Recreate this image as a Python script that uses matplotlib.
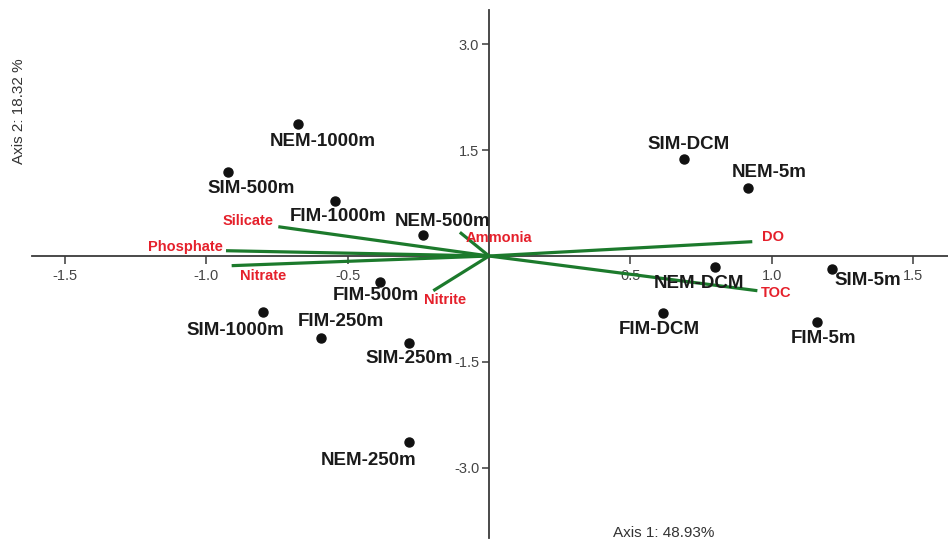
import matplotlib
matplotlib.use("Agg")
import matplotlib.pyplot as plt

# ---- data ----
samples = ["NEM-1000m", "SIM-500m", "FIM-1000m", "NEM-500m", "SIM-DCM", "NEM-5m",
           "NEM-DCM", "SIM-5m", "FIM-DCM", "FIM-5m", "FIM-500m", "SIM-1000m",
           "FIM-250m", "SIM-250m", "NEM-250m"]
axis1 = [-0.674, -0.924, -0.545, -0.232, 0.690, 0.915,
         0.799, 1.212, 0.614, 1.161, -0.385, -0.800,
         -0.595, -0.284, -0.283]
axis2 = [1.867, 1.191, 0.784, 0.293, 1.379, 0.960,
         -0.152, -0.189, -0.804, -0.940, -0.364, -0.798,
         -1.167, -1.237, -2.641]

variables = ["Silicate", "Phosphate", "Nitrate", "Nitrite", "Ammonia", "DO", "TOC"]
var_ax1 = [-0.745, -0.930, -0.910, -0.197, -0.103, 0.931, 0.949]
var_ax2 = [0.415, 0.075, -0.137, -0.492, 0.336, 0.203, -0.492]

xticks = [-1.5, -1.0, -0.5, 0.5, 1.0, 1.5]
yticks = [3.0, 1.5, -1.5, -3.0]
xlabel = "Axis 1: 48.93%"
ylabel = "Axis 2: 18.32 %"

# ---- label layout (pixel offsets from the point) ----
sample_offsets = {
    "NEM-1000m": (24, -17), "SIM-500m": (23, -17), "FIM-1000m": (3, -16),
    "NEM-500m": (19, 14), "SIM-DCM": (4, 14), "NEM-5m": (21, 16),
    "NEM-DCM": (-16, -17), "SIM-5m": (36, -11), "FIM-DCM": (-3, -17),
    "FIM-5m": (6, -16), "FIM-500m": (-4, -14), "SIM-1000m": (-27, -18),
    "FIM-250m": (20, 17), "SIM-250m": (0, -15), "NEM-250m": (-40, -18),
}
var_offsets = {
    "Silicate": (-5, 6, "right"), "Phosphate": (-3, 4, "right"),
    "Nitrate": (8, -10, "left"), "Nitrite": (-9, -9, "left"),
    "Ammonia": (6, -6, "left"), "DO": (10, 5, "left"), "TOC": (3, -2, "left"),
}

W, H = 948, 543
x0px, y0px = 489.0, 256.0
sx, sy = 282.8, 70.55

fig = plt.figure(figsize=(W / 100, H / 100), dpi=100)
ax = fig.add_axes([0, 0, 1, 1])
ax.set_xlim((0 - x0px) / sx, (W - x0px) / sx)
ax.set_ylim((y0px - H) / sy, y0px / sy)

for s in ["top", "right"]:
    ax.spines[s].set_visible(False)
ax.spines["left"].set_position(("data", 0))
ax.spines["bottom"].set_position(("data", 0))
ax.spines["bottom"].set_bounds((32 - x0px) / sx, (W - x0px) / sx)
ax.spines["left"].set_bounds((y0px - 538) / sy, (y0px - 10) / sy)
for s in ["left", "bottom"]:
    ax.spines[s].set_color("#3a3a3a")
    ax.spines[s].set_linewidth(1.3)

ax.set_xticks(xticks)
ax.set_xticklabels([f"{t:.1f}" for t in xticks])
ax.set_yticks(yticks)
ax.set_yticklabels([f"{t:.1f}" for t in yticks])
ax.tick_params(axis="x", direction="out", length=6, width=1.1, color="#3a3a3a",
               pad=3, labelsize=10.5, labelcolor="#444444")
ax.tick_params(axis="y", direction="out", length=5, width=1.1, color="#3a3a3a",
               pad=2, labelsize=10.5, labelcolor="#444444")
for lab in ax.get_xticklabels() + ax.get_yticklabels():
    lab.set_family("Liberation Sans")

green = "#1c7a2c"
red = "#e5202b"
for name, vx, vy in zip(variables, var_ax1, var_ax2):
    ax.plot([0, vx], [0, vy], color=green, lw=2.3, solid_capstyle="butt", zorder=3)
    dx, dy, ha = var_offsets[name]
    ax.annotate(name, (vx, vy), xytext=(dx, dy), textcoords="offset pixels",
                ha=ha, va="center", color=red, fontsize=10.5, fontweight="bold",
                family="Liberation Sans", zorder=4)

ax.plot(axis1, axis2, "o", color="#111111", markersize=6.5, zorder=5, linestyle="none")
for name, px, py in zip(samples, axis1, axis2):
    dx, dy = sample_offsets[name]
    ax.annotate(name, (px, py), xytext=(dx, dy), textcoords="offset pixels",
                ha="center", va="center", color="#1a1a1a", fontsize=13.5,
                fontweight="bold", family="Liberation Sans", zorder=6)

fig.text(19 / W, 1 - 111.5 / H, ylabel, rotation=90, ha="center", va="center",
         fontsize=11, color="#333333", family="Liberation Sans")
fig.text(664 / W, 1 - 533 / H, xlabel, ha="center", va="center",
         fontsize=11, color="#333333", family="Liberation Sans")

fig.savefig("out.png", dpi=100, facecolor="white")
